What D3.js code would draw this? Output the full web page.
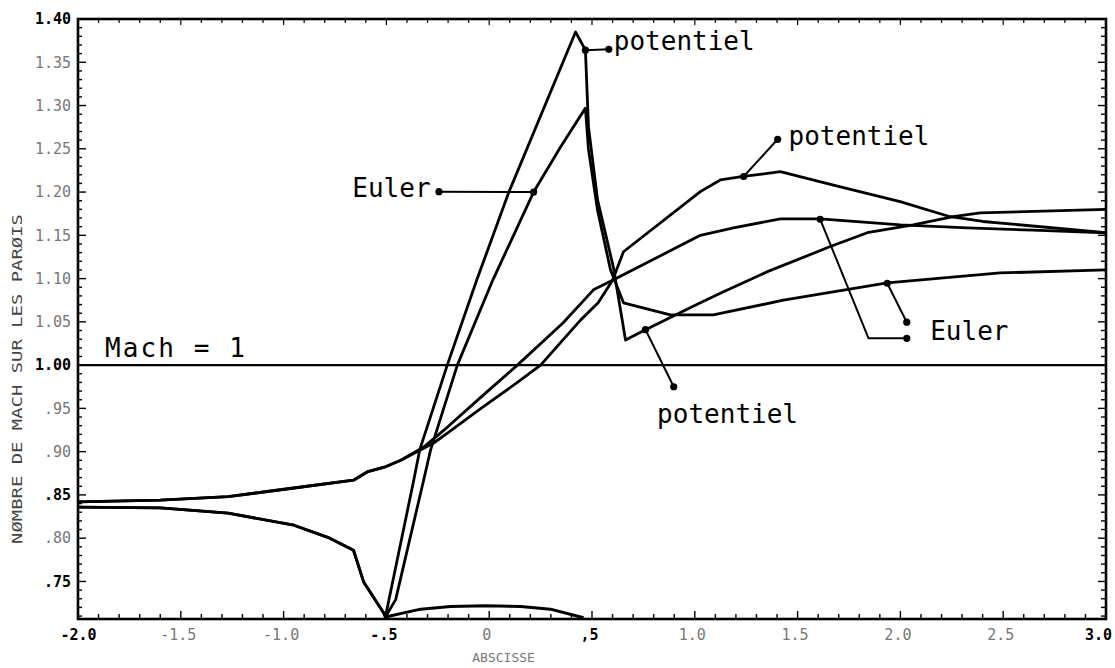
<!DOCTYPE html>
<html><head><meta charset="utf-8">
<script src="https://cdn.jsdelivr.net/npm/d3@7"></script>
<style>body{margin:0;background:#fff}</style>
</head><body>
<svg id="c" width="1115" height="668"></svg>
<script>
// ---------- axis ticks ----------
const xTickValues = [-2, -1.5, -1, -0.5, 0, 0.5, 1, 1.5, 2, 2.5, 3];
const xTickLabels = ["-2.0", "-1.5", "-1.0", "-.5", "0", ",5", "1.0", "1.5", "2.0", "2.5", "3.0"];
const yTickValues = [1.40, 1.35, 1.30, 1.25, 1.20, 1.15, 1.10, 1.05, 1.00, 0.95, 0.90, 0.85, 0.80, 0.75];
const yTickLabels = ["1.40", "1.35", "1.30", "1.25", "1.20", "1.15", "1.10", "1.05", "1.00", ".95", ".90", ".85", ".80", ".75"];
const boldLabels = ["-2.0", "-.5", ",5", "3.0", "1.40", "1.00", ".85", ".75"];

// ---------- series (abscisse, Mach) ----------
// upper wall, potentiel
const potUpperX = [-2.0, -1.6, -1.27, -0.95, -0.66, -0.59, -0.51, -0.43, -0.27, -0.20, -0.04, 0.137, 0.25, 0.444, 0.53, 0.60, 0.653, 1.027, 1.124, 1.236, 1.416, 1.674, 1.999, 2.242, 2.402, 3.0];
const potUpperY = [0.842, 0.844, 0.848, 0.858, 0.867, 0.877, 0.882, 0.890, 0.910, 0.922, 0.950, 0.980, 1.000, 1.052, 1.072, 1.098, 1.131, 1.2005, 1.214, 1.218, 1.2235, 1.208, 1.189, 1.1715, 1.166, 1.153];
// upper wall, Euler
const eulUpperX = [-2.0, -1.6, -1.27, -0.95, -0.66, -0.59, -0.51, -0.43, -0.32, -0.20, -0.04, 0.137, 0.36, 0.507, 0.60, 1.027, 1.188, 1.416, 1.61, 2.0, 2.325, 2.645, 3.0];
const eulUpperY = [0.842, 0.844, 0.848, 0.858, 0.867, 0.877, 0.882, 0.890, 0.905, 0.929, 0.963, 1.000, 1.049, 1.087, 1.098, 1.150, 1.1585, 1.169, 1.169, 1.162, 1.1585, 1.156, 1.153];
// lower wall, potentiel
const potLowerX = [-2.0, -1.6, -1.27, -0.95, -0.785, -0.66, -0.61, -0.513, -0.505, -0.367, -0.338, -0.204, -0.061, 0.094, 0.42, 0.459, 0.468, 0.483, 0.527, 0.604, 0.663, 0.76, 1.027, 1.124, 1.353, 1.659, 1.839, 2.062, 2.257, 2.388, 3.0];
const potLowerY = [0.836, 0.835, 0.829, 0.815, 0.801, 0.786, 0.749, 0.7135, 0.709, 0.867, 0.902, 1.000, 1.098, 1.199, 1.385, 1.368, 1.364, 1.275, 1.191, 1.113, 1.029, 1.041, 1.072, 1.083, 1.108, 1.137, 1.153, 1.162, 1.1715, 1.176, 1.180];
// lower wall, Euler
const eulLowerX = [-2.0, -1.6, -1.27, -0.95, -0.785, -0.66, -0.61, -0.513, -0.505, -0.455, -0.319, -0.285, -0.155, 0.017, 0.216, 0.347, 0.468, 0.483, 0.527, 0.59, 0.653, 0.881, 1.09, 1.431, 1.936, 2.485, 3.0];
const eulLowerY = [0.836, 0.835, 0.829, 0.815, 0.801, 0.786, 0.749, 0.7135, 0.709, 0.729, 0.867, 0.902, 1.000, 1.098, 1.200, 1.252, 1.297, 1.249, 1.179, 1.110, 1.072, 1.058, 1.058, 1.075, 1.095, 1.1065, 1.110];
// wall bump profile
const bumpX = [-0.505, -0.333, -0.188, -0.017, 0.153, 0.298, 0.459];
const bumpY = [0.709, 0.718, 0.721, 0.722, 0.721, 0.718, 0.708];
// sonic line
const machX = [-2, 3];
const machY = [1.0, 1.0];

// ---------- annotations ----------
const leaderPaths = [
  [[0.468, 1.364], [0.5816, 1.365]],
  [[0.216, 1.200], [-0.2444, 1.2004]],
  [[1.2375, 1.218], [1.403, 1.261]],
  [[1.610, 1.1685], [1.845, 1.031], [2.031, 1.031]],
  [[1.936, 1.0946], [2.031, 1.0496]],
  [[0.760, 1.041], [0.8975, 0.975]]
];
const labelTexts = ["potentiel", "Euler", "potentiel", "Euler", "potentiel", "Mach = 1"];
const labelX = [0.606, -0.285, 1.456, 2.145, 0.8167, -1.869];
const labelY = [1.364, 1.1943, 1.2544, 1.029, 0.9328, 1.0094];
const labelAnchor = ["start", "end", "start", "start", "start", "start"];

// ---------- drawing ----------
const svg = d3.select("#c");
const W = 1115, H = 668;
svg.append("rect").attr("width", W).attr("height", H).attr("fill", "#fff");

const x = d3.scaleLinear().domain([-2, 3]).range([78, 1106]);
const y = d3.scaleLinear().domain([0.7066, 1.40]).range([619, 19]);

const mono = "'DejaVu Sans Mono', 'Liberation Mono', monospace";

// minor ticks
const g = svg.append("g");
const xMinor = d3.range(-20, 31).map(i => i / 10);
const yMinor = d3.range(71, 141).map(i => i / 100);
function isMajorX(v) { return Math.abs(v * 2 - Math.round(v * 2)) < 1e-6; }
function isMajorY(v) { return Math.abs(v * 20 - Math.round(v * 20)) < 1e-6; }

g.selectAll(".xb").data(xMinor).join("line")
  .attr("x1", d => x(d)).attr("x2", d => x(d))
  .attr("y1", y.range()[0]).attr("y2", d => y.range()[0] - (isMajorX(d) ? 8 : 5))
  .attr("stroke", "#000").attr("stroke-width", 1.4);
g.selectAll(".xt").data(xMinor).join("line")
  .attr("x1", d => x(d)).attr("x2", d => x(d))
  .attr("y1", y.range()[1]).attr("y2", d => y.range()[1] + (isMajorX(d) ? 6 : 4))
  .attr("stroke", "#000").attr("stroke-width", 1.2);
g.selectAll(".yl").data(yMinor).join("line")
  .attr("x1", x.range()[0]).attr("x2", d => x.range()[0] + (isMajorY(d) ? 8 : 4))
  .attr("y1", d => y(d)).attr("y2", d => y(d))
  .attr("stroke", "#000").attr("stroke-width", 1.4);
g.selectAll(".yr").data(yMinor).join("line")
  .attr("x1", x.range()[1]).attr("x2", d => x.range()[1] - (isMajorY(d) ? 8 : 5))
  .attr("y1", d => y(d)).attr("y2", d => y(d))
  .attr("stroke", "#000").attr("stroke-width", 1.4);

// axis labels via d3 axes (no tick lines)
const xAxis = d3.axisBottom(x).tickValues(xTickValues)
  .tickFormat((d, i) => xTickLabels[i]).tickSize(0).tickPadding(10);
const gx = svg.append("g").attr("transform", `translate(0,${y.range()[0]})`).call(xAxis);
gx.select(".domain").remove();
gx.selectAll("text")
  .attr("font-family", mono).attr("font-size", 15)
  .attr("dx", (d, i) => i === xTickValues.length - 1 ? -8 : (i === 0 ? 0 : -3))
  .attr("font-weight", (d, i) => boldLabels.includes(xTickLabels[i]) ? "bold" : "normal")
  .attr("fill", (d, i) => boldLabels.includes(xTickLabels[i]) ? "#000" : "#777");

const yAxis = d3.axisLeft(y).tickValues(yTickValues)
  .tickFormat((d, i) => yTickLabels[i]).tickSize(0).tickPadding(7);
const gy = svg.append("g").attr("transform", `translate(${x.range()[0]},0)`).call(yAxis);
gy.select(".domain").remove();
gy.selectAll("text")
  .attr("font-family", mono).attr("font-size", 15)
  .attr("font-weight", (d, i) => boldLabels.includes(yTickLabels[i]) ? "bold" : "normal")
  .attr("fill", (d, i) => boldLabels.includes(yTickLabels[i]) ? "#000" : "#777");

// frame
svg.append("rect")
  .attr("x", x.range()[0]).attr("y", y.range()[1])
  .attr("width", x.range()[1] - x.range()[0]).attr("height", y.range()[0] - y.range()[1])
  .attr("fill", "none").attr("stroke", "#000").attr("stroke-width", 2.6);

// axis titles
svg.append("text")
  .attr("x", x(0.07)).attr("y", 662)
  .attr("text-anchor", "middle").attr("font-family", mono).attr("font-size", 13)
  .attr("fill", "#777").text("ABSCISSE");
svg.append("text")
  .attr("transform", `translate(22,${(y(0.7066) + y(1.40)) / 2 + 60}) rotate(-90)`)
  .attr("text-anchor", "middle").attr("font-family", mono).attr("font-size", 14)
  .attr("textLength", 330).attr("lengthAdjust", "spacingAndGlyphs")
  .attr("fill", "#444").text("NØMBRE DE MACH SUR LES PARØIS");

// curves
const line = d3.line().x(d => x(d[0])).y(d => y(d[1]));
const series = [
  [machX, machY, 2.2],
  [bumpX, bumpY, 3],
  [potUpperX, potUpperY, 2.8],
  [eulUpperX, eulUpperY, 2.8],
  [potLowerX, potLowerY, 2.8],
  [eulLowerX, eulLowerY, 2.8]
];
series.forEach(([xs, ys, w]) => {
  svg.append("path")
    .datum(xs.map((v, i) => [v, ys[i]]))
    .attr("d", line)
    .attr("fill", "none").attr("stroke", "#000")
    .attr("stroke-width", w).attr("stroke-linejoin", "round");
});

// leaders
leaderPaths.forEach(p => {
  svg.append("path").datum(p).attr("d", line)
    .attr("fill", "none").attr("stroke", "#000").attr("stroke-width", 2);
  [p[0], p[p.length - 1]].forEach(q => {
    svg.append("circle").attr("cx", x(q[0])).attr("cy", y(q[1])).attr("r", 3.6).attr("fill", "#000");
  });
});

// labels
labelTexts.forEach((t, i) => {
  const el = svg.append("text")
    .attr("x", x(labelX[i])).attr("y", y(labelY[i]))
    .attr("text-anchor", labelAnchor[i])
    .attr("font-family", mono).attr("font-size", 26)
    .attr("fill", "#000").text(t);
  if (t === "Mach = 1") el.attr("textLength", 140).attr("lengthAdjust", "spacing");
});
</script>
</body></html>
